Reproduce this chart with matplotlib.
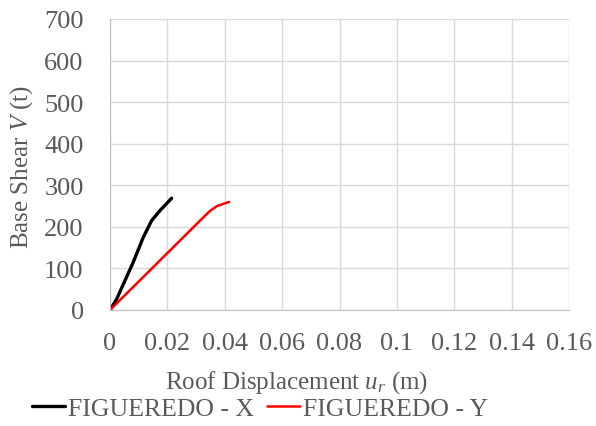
import matplotlib
matplotlib.use('Agg')
import matplotlib.pyplot as plt

# pushover curves
x_disp = [0.0, 0.0023, 0.0081, 0.0116, 0.0145, 0.0174, 0.0215]
x_shear = [0, 26, 115, 175, 215, 239, 269]
y_disp = [0.0, 0.0314, 0.0348, 0.0373, 0.0415]
y_shear = [0, 215, 238, 250, 260]

xticks = [0, 0.02, 0.04, 0.06, 0.08, 0.1, 0.12, 0.14, 0.16]
xtick_labels = ['0', '0.02', '0.04', '0.06', '0.08', '0.1', '0.12', '0.14', '0.16']
yticks = [0, 100, 200, 300, 400, 500, 600, 700]

txt = '#595959'
plt.rcParams['font.family'] = 'Liberation Serif'
plt.rcParams['mathtext.fontset'] = 'custom'
plt.rcParams['mathtext.rm'] = 'Liberation Serif'
plt.rcParams['mathtext.it'] = 'Liberation Serif:italic'

fig = plt.figure(figsize=(5.96, 4.27), dpi=100)
ax = fig.add_axes([0.1846, 0.2717, 0.7701, 0.6815])

ax.plot(x_disp, x_shear, color='black', lw=2.4, label='FIGUEREDO - X', solid_capstyle='round')
ax.plot(y_disp, y_shear, color='#ff0000', lw=1.8, label='FIGUEREDO - Y', solid_capstyle='round')

ax.set_xlim(0, 0.16)
ax.set_ylim(0, 700)
ax.set_xticks(xticks)
ax.set_xticklabels(xtick_labels)
ax.set_yticks(yticks)
ax.grid(True, color='#d9d9d9', lw=1)
ax.set_axisbelow(True)
for s in ['top', 'right']:
    ax.spines[s].set_visible(False)
for s in ['left', 'bottom']:
    ax.spines[s].set_color('#bfbfbf')
ax.tick_params(length=0, labelsize=19, labelcolor=txt)
ax.tick_params(axis='y', pad=19)
ax.tick_params(axis='x', pad=16)

ax.set_xlabel('Roof Displacement $u_r$ (m)', fontsize=18, color=txt)
ax.xaxis.label.set_va('center')
ax.xaxis.set_label_coords(0.407, -0.247)
ax.set_ylabel('Base Shear $V$ (t)', fontsize=18, color=txt)
ax.yaxis.label.set_va('center')
ax.yaxis.set_label_coords(-0.192, 0.495)

leg = fig.legend(loc='center', bbox_to_anchor=(0.436, 0.04), ncol=2, frameon=False,
                 fontsize=18.5, handlelength=1.3, handletextpad=0.1, columnspacing=0.5,
                 borderaxespad=0)
for t in leg.get_texts():
    t.set_color(txt)

fig.savefig('out.png', dpi=100)
